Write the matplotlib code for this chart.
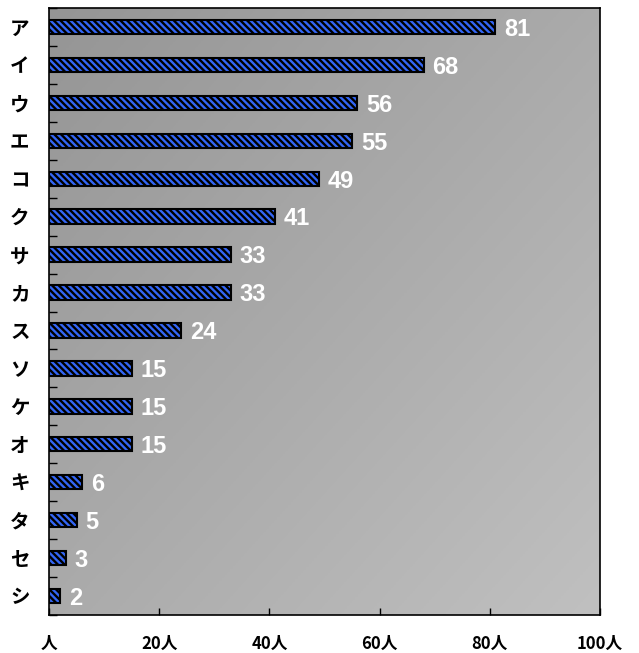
import numpy as np
import matplotlib
matplotlib.use('Agg')
import matplotlib.pyplot as plt
from matplotlib.colors import LinearSegmentedColormap

categories = ['ア', 'イ', 'ウ', 'エ', 'コ', 'ク', 'サ', 'カ', 'ス', 'ソ', 'ケ', 'オ', 'キ', 'タ', 'セ', 'シ']
values = [81, 68, 56, 55, 49, 41, 33, 33, 24, 15, 15, 15, 6, 5, 3, 2]
xticks = [0, 20, 40, 60, 80, 100]
xtick_labels = ['人', '20人', '40人', '60人', '80人', '100人']

plt.rcParams['font.family'] = ['Noto Sans CJK JP', 'DejaVu Sans']
plt.rcParams['hatch.linewidth'] = 1.7

fig = plt.figure(figsize=(6.39, 6.53), dpi=100)
ax = fig.add_axes([0.0767, 0.0582, 0.862, 0.9295])

# gradient background, darker at top-left
gx, gy = np.meshgrid(np.linspace(0, 1, 200), np.linspace(0, 1, 200))
grad = (gx + gy) / 2
cmap = LinearSegmentedColormap.from_list('bg', ['#959595', '#c0c0c0'])
ax.imshow(grad, cmap=cmap, extent=[0, 100, -0.5, len(categories) - 0.5],
          aspect='auto', origin='lower', zorder=0)

y = np.arange(len(categories))
ax.barh(y, values, height=0.38, color='#3366f5', edgecolor='black',
        linewidth=1.5, hatch='\\\\\\\\\\', zorder=2)

for yi, v in zip(y, values):
    ax.text(v + 1.6, yi + 0.06, str(v), color='white', fontsize=17, fontweight='bold',
            va='center', ha='left', family='Liberation Sans',
            fontstretch='condensed', zorder=3)

ax.set_xlim(0, 100)
ax.set_ylim(len(categories) - 0.5, -0.5)
ax.set_yticks(y)
ax.set_yticklabels(categories, fontsize=14, fontweight='bold')
ax.set_yticks(np.arange(len(categories) + 1) - 0.5, minor=True)
ax.tick_params(axis='y', which='major', length=0, pad=14)
ax.tick_params(axis='y', which='minor', direction='in', length=6, width=1)
ax.set_xticks(xticks)
ax.set_xticklabels(xtick_labels, fontsize=12, fontweight='bold')
ax.tick_params(axis='x', direction='in', length=5, width=1, pad=14)
for s in ax.spines.values():
    s.set_linewidth(1.2)

fig.savefig('out.png', dpi=100)
